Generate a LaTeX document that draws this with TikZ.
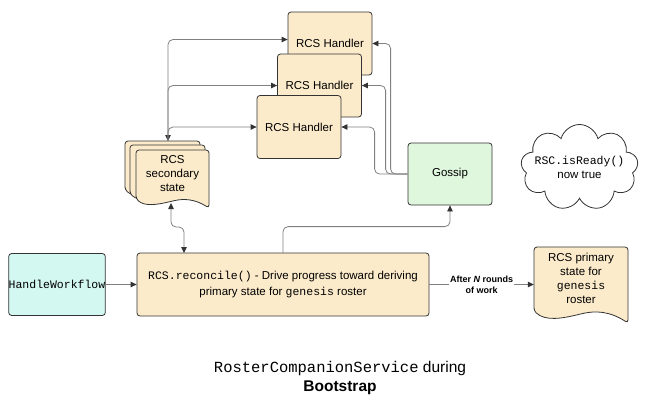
\documentclass[tikz,border=0pt]{standalone}
\usepackage{fontspec}
\setmainfont{Liberation Sans}
\setmonofont{Liberation Mono}
\usetikzlibrary{arrows.meta,shapes.symbols}

\definecolor{handlerfill}{HTML}{FCEBCB}
\definecolor{gossipfill}{HTML}{DFF7DC}
\definecolor{workflowfill}{HTML}{D3F7F1}
\definecolor{boxline}{HTML}{333333}
\definecolor{wireline}{HTML}{808080}

% document sheet: left, top, width, height
\newcommand{\rcsdoc}[4]{
  \begin{scope}[shift={(#1,#2)}]
    \draw[docbox] (0,{0.84*#4}) -- (0,0) -- (#3,0) -- (#3,#4)
      .. controls ({0.8*#3},{0.84*#4}) and ({0.65*#3},{0.84*#4}) .. ({0.5*#3},{0.88*#4})
      .. controls ({0.3*#3},{0.94*#4}) and ({0.12*#3},{0.98*#4}) .. (0,{0.84*#4}) -- cycle;
  \end{scope}}

\begin{document}
\begin{tikzpicture}[x=1pt,y=-1pt,font=\fontsize{11.5}{14}\selectfont,
    >={Triangle[length=6pt,width=5.5pt,color=boxline]},
    box/.style={draw=boxline,line width=0.8pt,rounded corners=3pt,align=center,inner sep=2pt},
    handler/.style={box,fill=handlerfill,minimum width=84pt,minimum height=63pt},
    docbox/.style={draw=boxline,fill=handlerfill,line width=0.8pt,rounded corners=3pt},
    wire/.style={draw=wireline,line width=0.8pt,rounded corners=5pt}]
      \useasboundingbox (0,0) rectangle (656,405);

      % secondary state, three sheets
      \rcsdoc{125}{141}{75}{58}
      \rcsdoc{130}{145}{75}{58}
      \rcsdoc{136}{150}{73}{58}
      % primary state
      \rcsdoc{534}{247}{94}{76}

      \node[handler] (H1) at (330,43.5) {RCS Handler};
      \node[handler] (H2) at (319.5,85.5) {RCS Handler};
      \node[handler] (H3) at (299,127) {RCS Handler};
      \node[box,fill=gossipfill,minimum width=84pt,minimum height=62pt] (gos) at (450,174) {Gossip};
      \node[box,fill=workflowfill,minimum width=94pt,minimum height=62pt,inner sep=0pt] (hw) at (57,284.5) {\texttt{HandleWorkflow}};
      \node[box,fill=handlerfill,minimum width=292pt,minimum height=63pt,font=\fontsize{11.5}{16}\selectfont] (rec) at (283,284.5)
        {\texttt{RCS.reconcile()} - Drive progress toward deriving\\primary state for \texttt{genesis} roster};
      \node[align=center] (sec) at (172.5,174) {RCS\\secondary\\state};
      \node[align=center,minimum width=94pt] (prim) at (581,278.5) {RCS primary\\state for\\\texttt{genesis}\\roster};
      \node[draw=boxline,line width=0.8pt,fill=white,cloud,cloud puffs=9,cloud ignores aspect,inner sep=-3pt,
        minimum width=97pt,minimum height=86pt,align=center] (rdy) at (579.5,167.5) {\texttt{RSC.isReady()}\\now true};
      \node[align=center,font=\fontsize{15.5}{19}\selectfont] (title) at (340,378)
        {\texttt{RosterCompanionService} during\\\textbf{Bootstrap}};

      \coordinate (secTop) at (168,141);
      \coordinate (secBot) at (171,203);
      \coordinate (recIn) at (184,253);

      \draw[wire,<->] (secTop) |- ([yshift=4pt]H1.west);
      \draw[wire,->] (secTop) |- (H2.west);
      \draw[wire,->] (secTop) |- (H3.west);
      \draw[wire,<->] (secBot) -- ++(0,24) -| (recIn);
      \draw[wire,->] (rec.north) -- ++(0,-26) -| (gos.south);
      \draw[wire,->] (gos.west) -- ++(-17,0) |- (H1.east);
      \draw[wire,->] (gos.west) -- ++(-22,0) |- (H2.east);
      \draw[wire,->] (gos.west) -- ++(-33,0) |- (H3.east);
      \draw[wire,->] (hw) -- (rec);
      \draw[wire,->] (rec) -- node[fill=white,inner sep=1pt,align=center,font=\fontsize{9}{11}\selectfont\bfseries]
        {After \textit{N} rounds\\of work} (rec -| prim.west);
    \end{tikzpicture}
\end{document}
